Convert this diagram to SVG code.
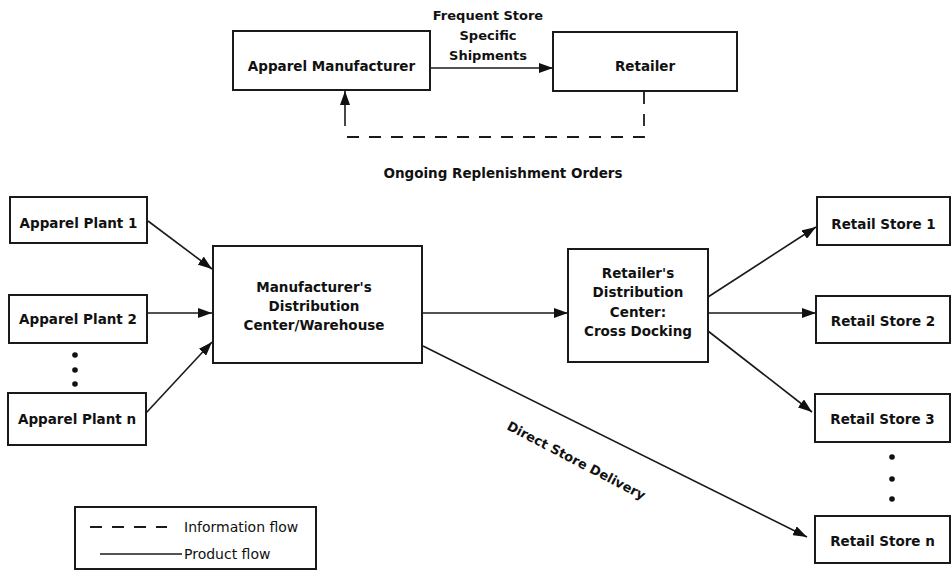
<svg xmlns="http://www.w3.org/2000/svg" width="951" height="571" viewBox="0 0 951 571">
  <style>
    .box { fill: #fff; stroke: #1a1a1a; stroke-width: 2; }
    .lbl { font-family: "DejaVu Sans", "Liberation Sans", sans-serif; font-weight: bold; font-size: 13.5px; fill: #111; text-anchor: middle; }
    .sm { font-size: 13px; }
    .leg { font-family: "DejaVu Sans", "Liberation Sans", sans-serif; font-size: 14px; fill: #111; }
    .flow { fill: none; stroke: #1a1a1a; stroke-width: 1.6; }
    .info { fill: none; stroke: #1a1a1a; stroke-width: 1.8; stroke-dasharray: 12 10; }
    .dot { fill: #111; }
  </style>
  <defs>
    <marker id="arrow" viewBox="0 0 14 10" refX="14" refY="5" markerWidth="14" markerHeight="10" markerUnits="userSpaceOnUse" orient="auto">
      <path d="M0,0 L14,5 L0,10 Z" fill="#111"/>
    </marker>
  </defs>

  <rect width="951" height="571" fill="#fff"/>

  <!-- upper panel: manufacturer / retailer loop -->
  <g id="apparel-manufacturer">
    <rect class="box" x="233" y="31" width="197" height="59"/>
    <text class="lbl" x="331.5" y="71">Apparel Manufacturer</text>
  </g>
  <g id="retailer">
    <rect class="box" x="553" y="32" width="184" height="59"/>
    <text class="lbl" x="645" y="71">Retailer</text>
  </g>

  <!-- lower panel: plants -->
  <g id="plant-1">
    <rect class="box" x="10" y="197" width="137" height="46"/>
    <text class="lbl" x="78.5" y="228">Apparel Plant 1</text>
  </g>
  <g id="plant-2">
    <rect class="box" x="9" y="295" width="138" height="48"/>
    <text class="lbl" x="78" y="324">Apparel Plant 2</text>
  </g>
  <g id="plant-n">
    <rect class="box" x="8" y="393" width="138" height="52"/>
    <text class="lbl" x="77" y="424">Apparel Plant n</text>
  </g>
  <g id="plant-dots">
    <circle class="dot" cx="75" cy="355" r="2.8"/>
    <circle class="dot" cx="75" cy="370" r="2.8"/>
    <circle class="dot" cx="75" cy="384" r="2.8"/>
  </g>

  <g id="manufacturer-dc">
    <rect class="box" x="213" y="246" width="209" height="117"/>
    <text class="lbl" x="314" y="292">Manufacturer's</text>
    <text class="lbl" x="314" y="311">Distribution</text>
    <text class="lbl" x="314" y="330">Center/Warehouse</text>
  </g>

  <g id="retailer-dc">
    <rect class="box" x="568" y="249" width="140" height="113"/>
    <text class="lbl" x="638" y="278">Retailer's</text>
    <text class="lbl" x="638" y="297">Distribution</text>
    <text class="lbl" x="638" y="317">Center:</text>
    <text class="lbl" x="638" y="336">Cross Docking</text>
  </g>

  <!-- retail stores -->
  <g id="store-1">
    <rect class="box" x="817" y="197" width="133" height="48"/>
    <text class="lbl" x="883.5" y="229">Retail Store 1</text>
  </g>
  <g id="store-2">
    <rect class="box" x="816" y="296" width="134" height="47"/>
    <text class="lbl" x="883" y="326">Retail Store 2</text>
  </g>
  <g id="store-3">
    <rect class="box" x="815" y="394" width="135" height="48"/>
    <text class="lbl" x="882.5" y="424">Retail Store 3</text>
  </g>
  <g id="store-n">
    <rect class="box" x="815" y="516" width="135" height="47"/>
    <text class="lbl" x="882.5" y="546">Retail Store n</text>
  </g>
  <g id="store-dots">
    <circle class="dot" cx="892" cy="457" r="2.8"/>
    <circle class="dot" cx="892" cy="479" r="2.8"/>
    <circle class="dot" cx="892" cy="499" r="2.8"/>
  </g>

  <!-- connectors -->
  <g id="connectors">
    <line class="flow" x1="430" y1="68" x2="553" y2="68" marker-end="url(#arrow)"/>
    <path class="info" d="M644,92 V137 H345"/>
    <line class="flow" x1="345" y1="126" x2="345" y2="91" marker-end="url(#arrow)"/>

    <line class="flow" x1="148" y1="221" x2="212" y2="269" marker-end="url(#arrow)"/>
    <line class="flow" x1="148" y1="313" x2="212" y2="313" marker-end="url(#arrow)"/>
    <line class="flow" x1="146" y1="413" x2="212" y2="342" marker-end="url(#arrow)"/>

    <line class="flow" x1="422" y1="313" x2="568" y2="313" marker-end="url(#arrow)"/>
    <line class="flow" x1="423" y1="346" x2="807" y2="537" marker-end="url(#arrow)"/>

    <line class="flow" x1="708" y1="297" x2="816" y2="227" marker-end="url(#arrow)"/>
    <line class="flow" x1="708" y1="313" x2="816" y2="313" marker-end="url(#arrow)"/>
    <line class="flow" x1="708" y1="331" x2="812" y2="412" marker-end="url(#arrow)"/>
  </g>

  <!-- connector labels -->
  <g id="connector-labels">
    <text class="lbl sm" x="488" y="20">Frequent Store</text>
    <text class="lbl sm" x="488" y="40">Specific</text>
    <text class="lbl sm" x="488" y="60">Shipments</text>
    <text class="lbl" x="503" y="178">Ongoing Replenishment Orders</text>
    <text class="lbl sm" transform="translate(576,461) rotate(27.5)" x="0" y="4">Direct Store Delivery</text>
  </g>

  <!-- legend -->
  <g id="legend">
    <rect class="box" x="75" y="507" width="241" height="62"/>
    <path d="M90,527 H167" fill="none" stroke="#1a1a1a" stroke-width="1.8" stroke-dasharray="12 10"/>
    <text class="leg" x="184" y="532">Information flow</text>
    <line x1="100" y1="554" x2="182" y2="554" stroke="#1a1a1a" stroke-width="1.6"/>
    <text class="leg" x="184" y="559">Product flow</text>
  </g>
</svg>
